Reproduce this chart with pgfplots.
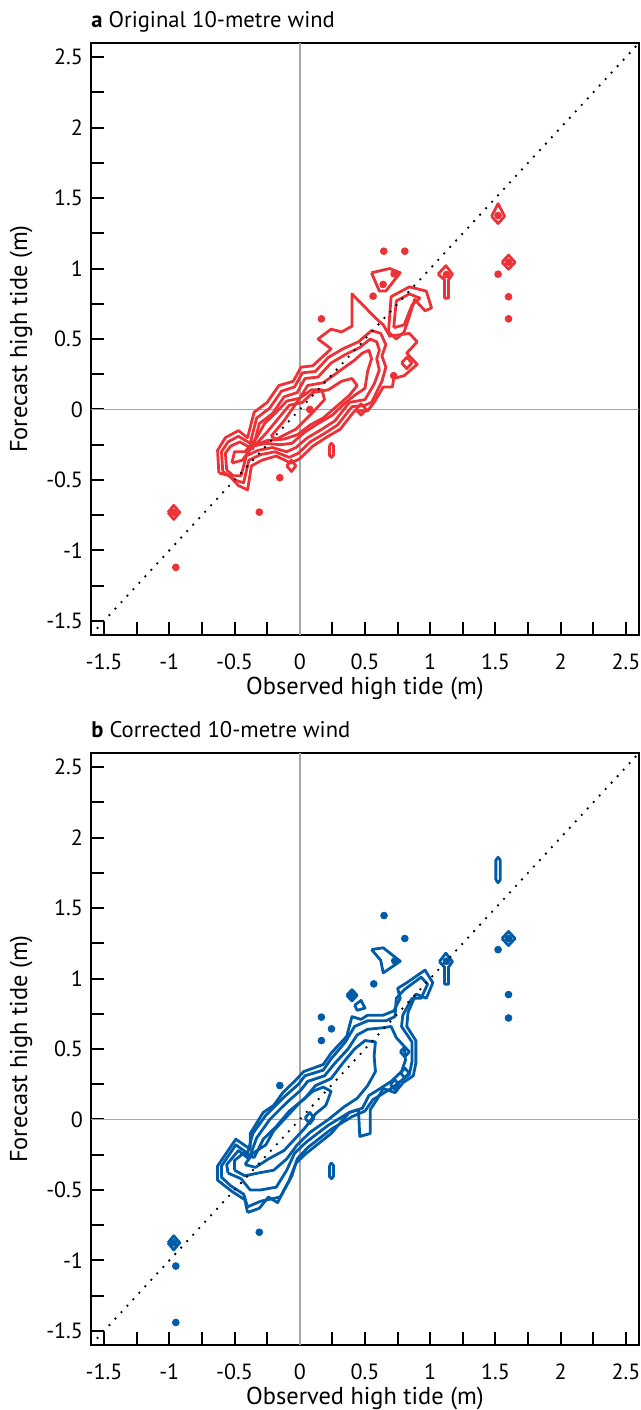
\documentclass[border=0pt]{standalone}
\usepackage{pgfplots}
\pgfplotsset{compat=1.18}
\usepackage{fontspec}
\setmainfont{PT Sans}
\definecolor{cred}{RGB}{237,50,55}
\definecolor{cblue}{RGB}{0,92,169}
\pgfplotsset{
  tideaxis/.style={
    scale only axis, width=274pt, height=296pt,
    xmin=-1.6, xmax=2.6, ymin=-1.6, ymax=2.6,
    xtick={-1.5,-1,-0.5,0,0.5,1,1.5,2,2.5},
    ytick={-1.5,-1,-0.5,0,0.5,1,1.5,2,2.5},
    minor xtick={-1.25,-0.75,-0.25,0.25,0.75,1.25,1.75,2.25},
    minor ytick={-1.25,-0.75,-0.25,0.25,0.75,1.25,1.75,2.25},
    tick align=inside, tick pos=left,
    major tick length=6.3pt, minor tick length=6.3pt,
    every tick/.style={black, line width=1pt},
    axis line style={line width=1pt},
    /pgf/number format/assume math mode=true,
    tick label style={font=\fontsize{11}{13}\selectfont},
    xticklabel style={yshift=-6pt},
    yticklabel style={xshift=-0.5pt},
    label style={font=\fontsize{12.2}{14}\selectfont},
    every axis x label/.style={at={(axis description cs:0.5,0)}, anchor=base, yshift=-29.5pt, font=\fontsize{12.2}{14}\selectfont},
    xlabel={Observed high tide (m)},
    ylabel={Forecast high tide (m)},
    every axis title/.style={at={(0,1)}, anchor=base west, yshift=8pt, inner sep=0pt, font=\fontsize{11.3}{13}\selectfont},
  },
  cr/.style={cred, line width=1.4pt, line join=round},
  cb/.style={cblue, line width=1.4pt, line join=round},
  zeroline/.style={black!35, line width=0.8pt},
  oneone/.style={black, line width=1.3pt, line cap=round, dash pattern=on 0pt off 4.4pt},
}
\begin{document}
\begin{tikzpicture}
\useasboundingbox (-45.5pt,-387.5pt) rectangle (275pt,317.5pt);
% ---------------- panel a ----------------
\begin{axis}[tideaxis, at={(0,0)}, title={\textbf{a} Original 10-metre wind}]
\addplot[zeroline] coordinates {(0,-1.6) (0,2.6)};
\addplot[zeroline] coordinates {(-1.6,0) (2.6,0)};
% main blob
\addplot[cr] coordinates {(-0.62,-0.45) (-0.63,-0.29) (-0.57,-0.20) (-0.47,-0.15) (-0.40,-0.20) (-0.35,-0.02) (-0.25,0.05) (-0.16,0.17) (-0.05,0.20) (0.01,0.30) (0.10,0.31) (0.24,0.43) (0.14,0.50) (0.24,0.57) (0.32,0.55) (0.40,0.59) (0.40,0.82) (0.58,0.65) (0.64,0.60) (0.69,0.52) (0.84,0.54) (0.90,0.48) (0.82,0.40) (0.90,0.32) (0.80,0.24) (0.72,0.22) (0.71,0.16) (0.64,0.16) (0.57,0.05) (0.52,-0.01) (0.42,-0.01) (0.31,-0.14) (0.20,-0.20) (0.10,-0.26) (0.00,-0.35) (-0.07,-0.38) (-0.18,-0.33) (-0.29,-0.36) (-0.37,-0.40) (-0.40,-0.57) (-0.47,-0.54) (-0.54,-0.47) (-0.62,-0.45)};
\addplot[cr] coordinates {(-0.59,-0.44) (-0.60,-0.30) (-0.55,-0.23) (-0.47,-0.19) (-0.38,-0.24) (-0.33,-0.06) (-0.23,0.01) (-0.14,0.13) (-0.04,0.16) (0.02,0.26) (0.12,0.27) (0.22,0.37) (0.33,0.43) (0.45,0.48) (0.55,0.56) (0.62,0.54) (0.66,0.46) (0.63,0.38) (0.66,0.30) (0.63,0.20) (0.55,0.05) (0.50,0.03) (0.40,0.02) (0.29,-0.11) (0.19,-0.17) (0.08,-0.23) (-0.01,-0.31) (-0.08,-0.34) (-0.19,-0.30) (-0.30,-0.32) (-0.39,-0.36) (-0.43,-0.52) (-0.50,-0.50) (-0.59,-0.44)};
\addplot[cr] coordinates {(-0.56,-0.43) (-0.57,-0.31) (-0.53,-0.26) (-0.46,-0.23) (-0.36,-0.28) (-0.31,-0.10) (-0.21,-0.03) (-0.12,0.09) (-0.02,0.12) (0.04,0.22) (0.14,0.23) (0.24,0.33) (0.35,0.39) (0.46,0.44) (0.54,0.50) (0.59,0.48) (0.61,0.42) (0.59,0.36) (0.61,0.28) (0.57,0.18) (0.50,0.07) (0.38,0.05) (0.27,-0.08) (0.17,-0.14) (0.06,-0.20) (-0.03,-0.27) (-0.10,-0.30) (-0.21,-0.27) (-0.32,-0.29) (-0.41,-0.33) (-0.45,-0.47) (-0.51,-0.47) (-0.56,-0.43)};
\addplot[cr] coordinates {(-0.52,-0.38) (-0.50,-0.30) (-0.42,-0.30) (-0.33,-0.20) (-0.27,-0.10) (-0.18,-0.02) (-0.10,0.06) (0.00,0.08) (0.06,0.17) (0.18,0.19) (0.30,0.27) (0.42,0.35) (0.48,0.40) (0.53,0.42) (0.55,0.36) (0.52,0.27) (0.50,0.15) (0.42,0.10) (0.34,0.04) (0.25,-0.04) (0.14,-0.10) (0.04,-0.16) (-0.06,-0.24) (-0.15,-0.25) (-0.26,-0.24) (-0.36,-0.26) (-0.44,-0.36) (-0.52,-0.38)};
\addplot[cr] coordinates {(-0.40,-0.30) (-0.33,-0.24) (-0.25,-0.16) (-0.17,-0.07) (-0.08,0.03) (0.02,0.05) (0.10,0.12) (0.22,0.14) (0.32,0.20) (0.40,0.22) (0.44,0.17) (0.38,0.10) (0.28,0.02) (0.18,-0.06) (0.08,-0.11) (-0.02,-0.18) (-0.12,-0.21) (-0.25,-0.22) (-0.36,-0.26) (-0.40,-0.30)};
\addplot[cr] coordinates {(-0.22,-0.19) (-0.12,-0.08) (0.00,0.08) (0.09,0.14) (0.17,0.14) (0.19,0.07) (0.10,-0.02) (-0.03,-0.14) (-0.18,-0.21) (-0.22,-0.19)};
% satellites
\addplot[cr] coordinates {(0.68,0.55) (0.70,0.80) (0.84,0.87) (0.97,0.84) (1.01,0.72) (0.96,0.70) (0.88,0.78) (0.84,0.66) (0.80,0.55) (0.74,0.50) (0.68,0.55)};
\addplot[cr] coordinates {(0.72,0.58) (0.74,0.77) (0.84,0.82) (0.92,0.79) (0.86,0.74) (0.80,0.60) (0.72,0.58)};
\addplot[cr] coordinates {(0.55,0.97) (0.69,1.00) (0.77,0.97) (0.66,0.84) (0.61,0.84) (0.55,0.97)};
\addplot[cr] coordinates {(1.06,0.96) (1.12,1.02) (1.17,0.96) (1.14,0.92) (1.14,0.79) (1.11,0.79) (1.11,0.92) (1.06,0.96)};
\addplot[cr] coordinates {(1.47,1.37) (1.52,1.46) (1.57,1.37) (1.52,1.32) (1.47,1.37)};
\addplot[cr] coordinates {(1.55,1.045) (1.60,1.095) (1.65,1.045) (1.60,0.995) (1.55,1.045)};
\addplot[cr] coordinates {(-1.01,-0.73) (-0.966,-0.68) (-0.92,-0.73) (-0.966,-0.78) (-1.01,-0.73)};
\addplot[cr] coordinates {(-0.10,-0.40) (-0.064,-0.36) (-0.03,-0.40) (-0.064,-0.44) (-0.10,-0.40)};
\addplot[cr] coordinates {(0.43,0.0) (0.47,0.04) (0.51,0.0) (0.47,-0.04) (0.43,0.0)};
\addplot[cr] coordinates {(0.78,0.33) (0.82,0.37) (0.86,0.33) (0.82,0.29) (0.78,0.33)};
\addplot[cr] coordinates {(0.228,-0.255) (0.243,-0.24) (0.258,-0.255) (0.258,-0.325) (0.243,-0.34) (0.228,-0.325) (0.228,-0.255)};
\addplot[cred, only marks, mark=*, mark size=1.7pt] coordinates {(0.644,1.123) (0.805,1.123) (0.562,0.804) (0.166,0.643) (1.52,0.96) (1.60,0.80) (1.60,0.643) (-0.95,-1.12) (-0.31,-0.728) (-0.153,-0.484) (0.077,0.0) (0.723,0.962) (0.639,0.887) (1.124,0.957) (1.52,1.376) (1.60,1.045) (-0.966,-0.73) (0.72,0.24)};
\addplot[oneone] coordinates {(-1.55,-1.55) (2.6,2.6)};
\end{axis}
% ---------------- panel b ----------------
\begin{axis}[tideaxis, at={(0,-355pt)}, title={\textbf{b} Corrected 10-metre wind}]
\addplot[zeroline] coordinates {(0,-1.6) (0,2.6)};
\addplot[zeroline] coordinates {(-1.6,0) (2.6,0)};
\addplot[cb] coordinates {(-0.40,-0.66) (-0.42,-0.57) (-0.52,-0.51) (-0.63,-0.43) (-0.63,-0.33) (-0.49,-0.14) (-0.38,-0.21) (-0.38,-0.10) (-0.28,0.05) (-0.20,0.10) (-0.13,0.19) (-0.03,0.28) (0.03,0.34) (0.18,0.39) (0.24,0.47) (0.36,0.59) (0.40,0.73) (0.47,0.71) (0.52,0.74) (0.64,0.74) (0.72,0.77) (0.77,0.86) (0.75,0.93) (0.82,0.97) (0.96,1.06) (1.02,0.97) (0.97,0.86) (0.89,0.89) (0.83,0.76) (0.82,0.66) (0.89,0.56) (0.89,0.40) (0.87,0.31) (0.79,0.26) (0.73,0.19) (0.64,0.22) (0.59,0.14) (0.54,0.07) (0.54,-0.10) (0.46,-0.12) (0.45,0.07) (0.38,0.05) (0.24,-0.10) (0.05,-0.24) (-0.03,-0.31) (-0.08,-0.43) (-0.17,-0.59) (-0.24,-0.55) (-0.31,-0.63) (-0.40,-0.66)};
\addplot[cb] coordinates {(-0.40,-0.62) (-0.43,-0.53) (-0.53,-0.47) (-0.60,-0.41) (-0.60,-0.33) (-0.49,-0.18) (-0.40,-0.24) (-0.36,-0.10) (-0.26,0.03) (-0.12,0.16) (-0.01,0.25) (0.04,0.31) (0.18,0.35) (0.24,0.43) (0.35,0.55) (0.42,0.66) (0.52,0.70) (0.66,0.70) (0.73,0.73) (0.74,0.86) (0.80,0.92) (0.93,1.01) (0.98,0.96) (0.93,0.86) (0.86,0.86) (0.79,0.74) (0.78,0.66) (0.86,0.55) (0.86,0.41) (0.84,0.32) (0.77,0.27) (0.70,0.22) (0.56,0.14) (0.50,0.06) (0.40,0.02) (0.24,-0.07) (0.06,-0.20) (-0.02,-0.28) (-0.06,-0.40) (-0.15,-0.55) (-0.30,-0.58) (-0.40,-0.62)};
\addplot[cb] coordinates {(-0.55,-0.38) (-0.56,-0.32) (-0.47,-0.22) (-0.39,-0.28) (-0.33,-0.13) (-0.23,0.00) (-0.10,0.12) (0.01,0.21) (0.06,0.27) (0.19,0.31) (0.27,0.40) (0.37,0.50) (0.44,0.60) (0.52,0.64) (0.63,0.65) (0.70,0.66) (0.74,0.58) (0.80,0.52) (0.81,0.42) (0.78,0.34) (0.70,0.27) (0.60,0.21) (0.53,0.17) (0.48,0.08) (0.38,0.05) (0.22,-0.04) (0.05,-0.16) (-0.04,-0.24) (-0.10,-0.36) (-0.18,-0.48) (-0.30,-0.50) (-0.38,-0.50) (-0.45,-0.42) (-0.55,-0.38)};
\addplot[cb] coordinates {(-0.50,-0.36) (-0.50,-0.29) (-0.43,-0.24) (-0.35,-0.27) (-0.28,-0.14) (-0.18,-0.05) (-0.08,0.06) (0.04,0.15) (0.12,0.24) (0.24,0.29) (0.33,0.40) (0.42,0.50) (0.50,0.56) (0.58,0.55) (0.57,0.45) (0.58,0.34) (0.52,0.24) (0.44,0.15) (0.34,0.09) (0.22,0.00) (0.08,-0.09) (-0.02,-0.18) (-0.10,-0.28) (-0.20,-0.36) (-0.32,-0.38) (-0.42,-0.40) (-0.50,-0.36)};
\addplot[cb] coordinates {(-0.42,-0.32) (-0.36,-0.24) (-0.26,-0.18) (-0.20,-0.08) (-0.10,0.02) (0.00,0.12) (0.10,0.20) (0.18,0.23) (0.24,0.20) (0.20,0.10) (0.12,0.04) (0.04,-0.06) (-0.04,-0.14) (-0.12,-0.22) (-0.24,-0.28) (-0.34,-0.34) (-0.42,-0.32)};
\addplot[cb] coordinates {(0.04,0.01) (0.077,0.05) (0.11,0.01) (0.077,-0.03) (0.04,0.01)};
% satellites
\addplot[cb] coordinates {(1.503,1.70) (1.503,1.84) (1.52,1.86) (1.537,1.84) (1.537,1.70) (1.52,1.68) (1.503,1.70)};
\addplot[cb] coordinates {(1.55,1.284) (1.60,1.334) (1.65,1.284) (1.60,1.234) (1.55,1.284)};
\addplot[cb] coordinates {(1.07,1.12) (1.12,1.18) (1.17,1.12) (1.14,1.08) (1.14,0.96) (1.11,0.96) (1.11,1.08) (1.07,1.12)};
\addplot[cb] coordinates {(0.55,1.206) (0.64,1.218) (0.77,1.123) (0.64,1.04) (0.62,1.13) (0.55,1.206)};
\addplot[cb] coordinates {(0.36,0.881) (0.40,0.921) (0.44,0.881) (0.40,0.841) (0.36,0.881)};
\addplot[cb] coordinates {(0.42,0.81) (0.47,0.845) (0.50,0.79) (0.44,0.775) (0.42,0.81)};
\addplot[cb] coordinates {(0.695,0.248) (0.728,0.283) (0.761,0.248) (0.728,0.213) (0.695,0.248)};
\addplot[cb] coordinates {(0.772,0.33) (0.805,0.365) (0.838,0.33) (0.805,0.295) (0.772,0.33)};
\addplot[cb] coordinates {(0.77,0.48) (0.805,0.515) (0.84,0.48) (0.805,0.445) (0.77,0.48)};
\addplot[cb] coordinates {(-1.01,-0.875) (-0.966,-0.825) (-0.92,-0.875) (-0.966,-0.925) (-1.01,-0.875)};
\addplot[cb] coordinates {(0.228,-0.325) (0.243,-0.31) (0.258,-0.325) (0.258,-0.405) (0.243,-0.42) (0.228,-0.405) (0.228,-0.325)};
\addplot[cblue, only marks, mark=*, mark size=1.7pt] coordinates {(0.646,1.447) (0.805,1.284) (0.567,0.962) (0.166,0.726) (0.243,0.643) (0.166,0.560) (-0.153,0.241) (1.52,1.205) (1.60,0.886) (1.60,0.72) (-0.95,-1.04) (-0.95,-1.44) (-0.31,-0.80) (0.728,1.126) (1.124,1.123) (1.60,1.284) (0.40,0.881) (-0.966,-0.875)};
\addplot[oneone] coordinates {(-1.55,-1.55) (2.6,2.6)};
\end{axis}
\end{tikzpicture}
\end{document}
